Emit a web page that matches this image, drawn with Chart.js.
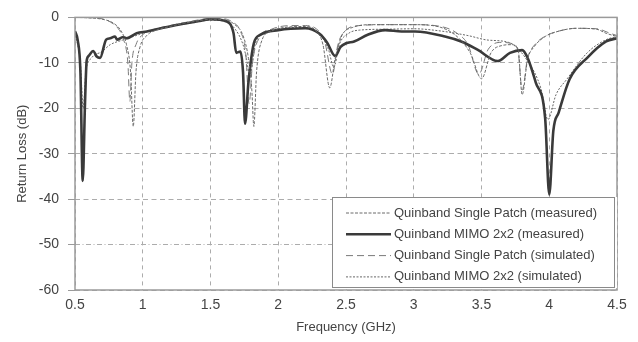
<!DOCTYPE html>
<html>
<head>
<meta charset="utf-8">
<script src="https://cdn.jsdelivr.net/npm/chart.js@4.4.0/dist/chart.umd.min.js"></script>
<style>
html, body { margin: 0; padding: 0; background: #fff; }
</style>
</head>
<body>
<canvas id="myChart" width="638" height="342"></canvas>
<script>
// values (GHz / dB)
const singleMeasFreq = [0.5,0.6,0.7,0.78,0.84,0.88,0.91,0.93,0.95,0.98,1.03,1.1,1.2,1.3,1.4,1.5,1.6,1.68,1.74,1.78,1.805,1.82,1.84,1.88,1.95,2.05,2.2,2.28,2.33,2.38,2.42,2.47,2.55,2.7,3.0,3.2,3.33,3.42,3.5,3.57,3.65,3.72,3.77,3.8,3.84,3.89,3.97,4.05,4.2,4.35,4.42,4.5];
const singleMeasLoss = [0,-0.1,-0.4,-1.2,-3,-6,-12,-24,-12,-6.5,-4,-2.8,-2,-1.3,-0.8,-0.4,-0.5,-1.6,-4,-9,-16,-24,-12,-5,-3,-2.2,-2,-3,-6,-15.5,-9,-4,-2.2,-1.6,-1.6,-2.2,-4.5,-8,-13.5,-7.8,-6.2,-6,-7,-17,-9.3,-6.4,-4.2,-3.2,-2.4,-2.6,-3.5,-4.2];

const mimoMeasFreq = [0.5,0.52,0.54,0.557,0.574,0.586,0.6,0.635,0.66,0.685,0.73,0.76,0.795,0.81,0.855,0.88,0.955,1.03,1.18,1.3,1.42,1.5,1.62,1.67,1.69,1.72,1.74,1.755,1.78,1.82,1.87,2.0,2.2,2.3,2.36,2.42,2.46,2.5,2.56,2.66,2.79,2.91,3.01,3.23,3.35,3.47,3.62,3.71,3.8,3.84,3.9,3.97,4.0,4.03,4.07,4.15,4.28,4.42,4.5];
const mimoMeasLoss = [-3,-5,-12,-36,-18.7,-9.6,-8.5,-7.4,-8.6,-8.9,-4.9,-4.6,-4.2,-4.9,-4.3,-4.6,-3.5,-3.1,-2.1,-1.4,-0.8,-0.4,-0.9,-3.5,-7.8,-7.5,-12,-23.4,-14.3,-5.7,-3.8,-2.8,-2.4,-3.5,-5.5,-8.5,-6.5,-5.7,-5.3,-3.8,-2.8,-3.1,-3.1,-4.2,-5.3,-7.1,-9.6,-7.8,-7.2,-8.9,-14.3,-22.3,-39,-25,-20.9,-13.6,-8.9,-5.3,-4.6];

const singleSimFreq = [0.5,0.6,0.7,0.76,0.82,0.86,0.89,0.905,0.92,0.95,1.0,1.1,1.2,1.3,1.4,1.5,1.6,1.66,1.72,1.76,1.785,1.81,1.86,1.95,2.1,2.2,2.28,2.34,2.4,2.44,2.5,2.6,2.8,3.0,3.2,3.32,3.4,3.48,3.55,3.65,3.73,3.77,3.8,3.84,3.9,3.98,4.1,4.2,4.35,4.45,4.5];
const singleSimLoss = [0,-0.05,-0.3,-1,-2.5,-5,-10,-18.5,-10,-6,-3.8,-2.5,-1.8,-1.2,-0.6,-0.2,-0.3,-1,-3,-8,-19,-10,-4.5,-2.6,-1.8,-1.8,-2.5,-5,-12.5,-6,-2.8,-1.8,-1.6,-1.6,-2,-3.5,-6,-12.5,-7,-5.5,-5.8,-7.5,-16,-9,-5.8,-4,-2.8,-2.4,-2.5,-3.5,-4];

const mimoSimFreq = [0.5,0.52,0.54,0.56,0.58,0.62,0.7,0.76,0.85,0.95,1.05,1.2,1.4,1.5,1.6,1.68,1.74,1.765,1.79,1.83,1.9,2.0,2.2,2.3,2.37,2.41,2.45,2.52,2.6,2.8,3.0,3.2,3.4,3.55,3.7,3.84,3.94,3.99,4.05,4.13,4.28,4.42,4.5];
const mimoSimLoss = [-4,-6,-10,-20,-12,-9,-7.5,-6,-5,-4,-3,-2,-1,-0.6,-0.8,-2.5,-6,-9,-13,-6,-3.5,-2.5,-2.2,-3.5,-7,-11,-6,-3.5,-2.8,-2.6,-2.5,-3,-4,-5,-5.5,-9.6,-15.8,-22.5,-17,-13.6,-7.8,-4.9,-4.2];

const seriesNames = [
    'Quinband Single Patch (measured)',
    'Quinband MIMO 2x2 (measured)',
    'Quinband Single Patch (simulated)',
    'Quinband MIMO 2x2 (simulated)'
];
const xTickLabels = ['0.5','1','1.5','2','2.5','3','3.5','4','4.5'];
const yTickLabels = ['-60','-50','-40','-30','-20','-10','0'];

function pts(f, v) {
    return f.map((x, i) => ({x: x, y: v[i]}));
}

const FONT = 'Liberation Sans, Arial, sans-serif';
const TXT = '#444';

// frame round the plot + legend box inside bottom right
const frameLegend = {
    id: 'frameLegend',
    afterDatasetsDraw(chart) {
        const ctx = chart.ctx;
        const a = chart.chartArea;
        ctx.save();
        ctx.strokeStyle = '#9a9a9a';
        ctx.lineWidth = 1.5;
        ctx.strokeRect(a.left, a.top, a.right - a.left, a.bottom - a.top);

        const bx = a.right - 285, by = a.bottom - 93, bw = 285, bh = 91;
        ctx.fillStyle = '#fff';
        ctx.fillRect(bx, by, bw, bh);
        ctx.strokeStyle = '#8a8a8a';
        ctx.lineWidth = 1;
        ctx.strokeRect(bx + 0.5, by + 0.5, bw - 3, bh - 1);

        ctx.font = '13px ' + FONT;
        ctx.textBaseline = 'middle';
        chart.data.datasets.forEach((ds, i) => {
            const ly = by + 16 + i * 21.3;
            ctx.beginPath();
            ctx.setLineDash(ds.borderDash || []);
            ctx.strokeStyle = ds.borderColor;
            ctx.lineWidth = ds.borderWidth;
            ctx.moveTo(bx + 14, ly);
            ctx.lineTo(bx + 59, ly);
            ctx.stroke();
            ctx.setLineDash([]);
            ctx.fillStyle = TXT;
            ctx.fillText(seriesNames[i], bx + 62, ly);
        });
        ctx.restore();
    }
};

const ctx = document.getElementById('myChart');
new Chart(ctx, {
    type: 'line',
    data: {
        datasets: [{
            label: seriesNames[0],
            data: pts(singleMeasFreq, singleMeasLoss),
            borderColor: '#6a6a6a',
            borderWidth: 1,
            borderDash: [3, 1.5]
        }, {
            label: seriesNames[1],
            data: pts(mimoMeasFreq, mimoMeasLoss),
            borderColor: '#3a3a3a',
            borderWidth: 2.6
        }, {
            label: seriesNames[2],
            data: pts(singleSimFreq, singleSimLoss),
            borderColor: '#7a7a7a',
            borderWidth: 1,
            borderDash: [7, 4]
        }, {
            label: seriesNames[3],
            data: pts(mimoSimFreq, mimoSimLoss),
            borderColor: '#666',
            borderWidth: 1,
            borderDash: [2, 1.5]
        }]
    },
    options: {
        responsive: false,
        animation: false,
        devicePixelRatio: 1,
        layout: { padding: { top: 14, right: 21, left: 0, bottom: 0 } },
        elements: {
            point: { radius: 0 },
            line: { cubicInterpolationMode: 'monotone' }
        },
        plugins: {
            legend: { display: false },
            tooltip: { enabled: false }
        },
        scales: {
            x: {
                type: 'linear',
                min: 0.5,
                max: 4.5,
                afterFit: s => { s.height = 52; },
                ticks: {
                    stepSize: 0.5,
                    padding: 7,
                    color: TXT,
                    font: { family: FONT, size: 14 },
                    callback: (v, i) => xTickLabels[i]
                },
                grid: { color: '#acacac', drawTicks: false },
                border: { display: false, dash: [4, 4] },
                title: {
                    display: true,
                    text: 'Frequency (GHz)',
                    color: TXT,
                    font: { family: FONT, size: 13 },
                    padding: { top: 0, bottom: 7 }
                }
            },
            y: {
                min: -60,
                max: 0,
                afterFit: s => { s.width = 75; },
                ticks: {
                    stepSize: 10,
                    padding: 9,
                    color: TXT,
                    font: { family: FONT, size: 14 },
                    callback: (v, i) => yTickLabels[i]
                },
                grid: { color: '#acacac', tickLength: 7, tickColor: '#9a9a9a' },
                border: {
                    display: false,
                    dash: c => (c.tick && c.tick.value === -50) ? [5, 2.5, 1, 2.5] : [5, 3.5]
                },
                title: {
                    display: true,
                    text: 'Return Loss (dB)',
                    color: TXT,
                    font: { family: FONT, size: 13 },
                    padding: { top: 15, bottom: 0 }
                }
            }
        }
    },
    plugins: [frameLegend]
});
</script>
</body>
</html>
